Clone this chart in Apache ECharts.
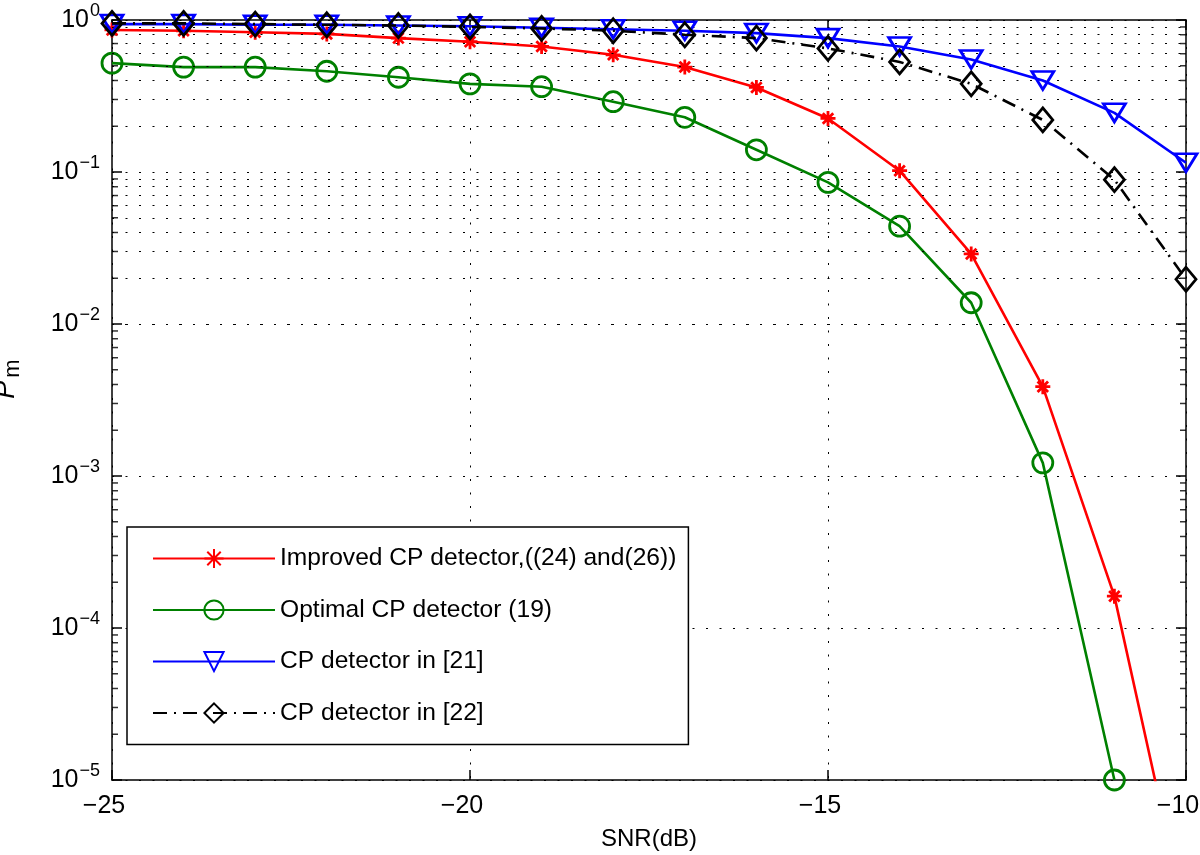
<!DOCTYPE html>
<html><head><meta charset="utf-8">
<script src="https://cdn.jsdelivr.net/npm/echarts@6/dist/echarts.min.js"></script>
<style>html,body{margin:0;padding:0;background:#fff}#c{width:1200px;height:855px}</style>
</head><body><div id="c"></div>
<script>
// ---- data ----
const snr = [-25, -24, -23, -22, -21, -20, -19, -18, -17, -16, -15, -14, -13, -12, -11, -10];
const improved = [0.86, 0.85, 0.83, 0.81, 0.76, 0.72, 0.67, 0.59, 0.49, 0.36, 0.225, 0.102, 0.0289, 0.00387, 1.62e-4, 1.2e-6];
const optimal  = [0.52, 0.49, 0.49, 0.46, 0.42, 0.38, 0.364, 0.29, 0.229, 0.14, 0.0855, 0.044, 0.0138, 0.00122, 1.0e-5, null];
const cp21     = [0.94, 0.94, 0.93, 0.93, 0.92, 0.91, 0.89, 0.87, 0.85, 0.82, 0.76, 0.67, 0.55, 0.40, 0.245, 0.115];
const cp22     = [0.95, 0.95, 0.94, 0.93, 0.92, 0.90, 0.88, 0.85, 0.80, 0.76, 0.65, 0.53, 0.38, 0.22, 0.089, 0.0197];
const names = ['Improved CP detector,((24) and(26))', 'Optimal CP detector (19)', 'CP detector in [21]', 'CP detector in [22]'];
const xTicks = [-25, -20, -15, -10];
const yMin = 1e-5, yMax = 1;

// minor log tick positions (2..9 x 10^k)
const minorVals = [];
for (let k = -5; k < 0; k++) for (let m = 2; m <= 9; m++) minorVals.push(m * Math.pow(10, k));

const FONT = '"Liberation Sans", Arial, Helvetica, sans-serif';
const pair = arr => snr.map((x, i) => [x, arr[i]]);
const dotted = {color: '#000', width: 1, type: [2, 11.5]};
const axisLine = {show: true, lineStyle: {color: '#000', width: 1.5}};

const chart = echarts.init(document.getElementById('c'), null, {renderer: 'canvas'});
chart.setOption({
  animation: false,
  backgroundColor: '#fff',
  grid: {left: 112, right: 14, top: 20, bottom: 75, containLabel: false, outerBoundsMode: 'none'},
  legend: {
    data: names, orient: 'vertical', left: 127, top: 527,
    itemWidth: 122, itemHeight: 24, itemGap: 26.5,
    padding: [19, 12, 19, 25],
    backgroundColor: '#fff', borderColor: '#000', borderWidth: 1.5, borderRadius: 0,
    textStyle: {fontSize: 24.6, fontFamily: FONT, color: '#000', lineHeight: 24},
    selectedMode: false
  },
  xAxis: [{
    type: 'value', min: -25, max: -10, interval: 5, position: 'bottom',
    axisLine, axisTick: {show: true, inside: true, length: 10, lineStyle: {color: '#000', width: 1.5}},
    axisLabel: {margin: 14,
      formatter: v => '{t|' + String(v).replace('-', '\u2212') + '}',
      rich: {t: {color: '#000', fontSize: 25, fontFamily: FONT, padding: [0, 16, 0, 0]}}},
    splitLine: {show: true, lineStyle: dotted},
    name: 'SNR(dB)', nameLocation: 'middle', nameGap: 47,
    nameTextStyle: {color: '#000', fontSize: 24, fontFamily: FONT}
  }, {
    type: 'value', min: -25, max: -10, interval: 5, position: 'top',
    axisLine, axisTick: {show: true, inside: true, length: 10, lineStyle: {color: '#000', width: 1.5}},
    axisLabel: {show: false}, splitLine: {show: false}
  }],
  yAxis: [{
    type: 'log', logBase: 10, min: yMin, max: yMax, position: 'left',
    axisLine, axisTick: {show: true, inside: true, length: 10, lineStyle: {color: '#000', width: 1.5}},
    axisLabel: {
      margin: 12,
      formatter: v => {
        const e = Math.round(Math.log10(v));
        return '{b|10}{s|' + (e < 0 ? '\u2212' + (-e) : e) + '}';
      },
      rich: {
        b: {fontSize: 25, fontFamily: FONT, color: '#000'},
        s: {fontSize: 18, fontFamily: FONT, color: '#000', padding: [0, 0, 18, 1]}
      }
    },
    splitLine: {show: true, lineStyle: dotted},
    name: '{p|P}{m|m}', nameLocation: 'middle', nameRotate: 90, nameGap: 88,
    nameTextStyle: {
      padding: [0, 0, 0, 42],
      rich: {
        p: {fontSize: 27, fontStyle: 'italic', fontFamily: FONT, color: '#000'},
        m: {fontSize: 22, fontFamily: FONT, color: '#000', padding: [14, 0, 0, 3]}
      }
    }
  }, {
    type: 'log', logBase: 10, min: yMin, max: yMax, position: 'right',
    axisLine, axisTick: {show: true, inside: true, length: 10, lineStyle: {color: '#000', width: 1.5}},
    axisLabel: {show: false}, splitLine: {show: false}
  }],
  series: [
    {
      type: 'scatter', name: 'minorL', xAxisIndex: 0, yAxisIndex: 0,
      data: minorVals.map(v => [-25, v]), symbol: 'rect', symbolSize: [6, 1.5], symbolOffset: [3, 0],
      itemStyle: {color: '#000'}, silent: true, clip: false, z: 1,
      markLine: {
        silent: true, symbol: ['none', 'none'], label: {show: false},
        lineStyle: dotted, emphasis: {disabled: true},
        data: minorVals.map(v => ({yAxis: v}))
      }
    },
    {
      type: 'scatter', name: 'minorR', xAxisIndex: 0, yAxisIndex: 0,
      data: minorVals.map(v => [-10, v]), symbol: 'rect', symbolSize: [6, 1.5], symbolOffset: [-3, 0],
      itemStyle: {color: '#000'}, silent: true, clip: false, z: 1
    },
    {
      type: 'line', name: names[0], data: pair(improved), z: 3,
      symbol: 'path://M0,-6L0,6M-6,0L6,0M-4.2,-4.2L4.2,4.2M-4.2,4.2L4.2,-4.2', symbolSize: 15,
      lineStyle: {color: '#ff0000', width: 2.6},
      itemStyle: {color: 'rgba(0,0,0,0)', borderColor: '#ff0000', borderWidth: 2.8}
    },
    {
      type: 'line', name: names[1], data: pair(optimal), z: 4,
      symbol: 'circle', symbolSize: 20,
      lineStyle: {color: '#008000', width: 2.6},
      itemStyle: {color: 'rgba(0,0,0,0)', borderColor: '#008000', borderWidth: 2.8}
    },
    {
      type: 'line', name: names[2], data: pair(cp21), z: 5,
      symbol: 'triangle', symbolRotate: 180, symbolSize: [22, 18],
      lineStyle: {color: '#0000ff', width: 2.6},
      itemStyle: {color: 'rgba(0,0,0,0)', borderColor: '#0000ff', borderWidth: 2.8}
    },
    {
      type: 'line', name: names[3], data: pair(cp22), z: 6,
      symbol: 'diamond', symbolSize: [20, 24],
      lineStyle: {color: '#000', width: 2.6, type: [14, 7, 2, 7]},
      itemStyle: {color: 'rgba(0,0,0,0)', borderColor: '#000', borderWidth: 2.8}
    }
  ]
});
</script>
</body></html>
